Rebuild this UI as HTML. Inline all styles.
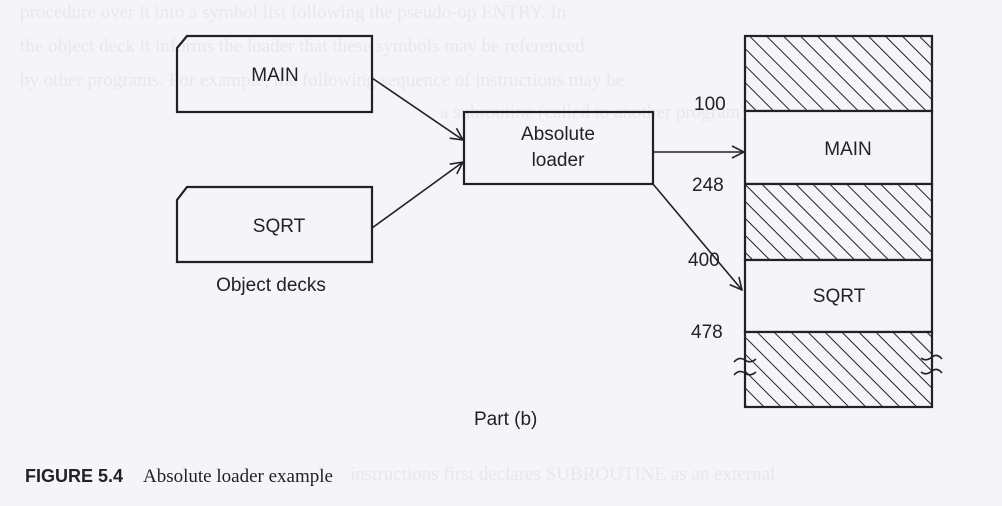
<!DOCTYPE html>
<html><head><meta charset="utf-8"><style>
html,body{margin:0;padding:0;background:#f5f4f8;}
svg{display:block;}
</style></head><body>
<svg width="1002" height="506" viewBox="0 0 1002 506" xmlns="http://www.w3.org/2000/svg">
<defs>
<pattern id="h" patternUnits="userSpaceOnUse" width="12" height="12" patternTransform="rotate(-45)">
<rect width="12" height="12" fill="#f5f4f8"/>
<line x1="0" y1="0" x2="0" y2="12" stroke="#222" stroke-width="2"/>
</pattern>
<marker id="a" markerWidth="14" markerHeight="14" refX="13" refY="7" orient="auto" markerUnits="userSpaceOnUse">
<path d="M1,1 L13,7 L1,13" fill="none" stroke="#222" stroke-width="1.6"/>
</marker>
</defs>
<rect width="1002" height="506" fill="#f5f4f8"/>
<g font-family="Liberation Serif, serif" font-size="19" fill="#e8e7ee">
<text x="20" y="18">procedure over it into a symbol list following the pseudo-op ENTRY. In</text>
<text x="20" y="52">the object deck it informs the loader that these symbols may be referenced</text>
<text x="20" y="86">by other programs. For example, the following sequence of instructions may be</text>
<text x="440" y="118">a subroutine (called to another program)</text>
<text x="350" y="480">instructions first declares SUBROUTINE as an external</text>
</g>
<g fill="none" stroke="#222" stroke-width="2.2">
<path d="M187,36 L372,36 L372,112 L177,112 L177,48 Z"/>
<path d="M187,187 L372,187 L372,262 L177,262 L177,200 Z"/>
<rect x="464" y="112" width="189" height="72"/>
</g>
<g stroke="#222" stroke-width="1.6" fill="none">
<line x1="372" y1="78" x2="463" y2="140" marker-end="url(#a)"/>
<line x1="372" y1="228" x2="463" y2="162" marker-end="url(#a)"/>
<line x1="653" y1="152" x2="744" y2="152" marker-end="url(#a)"/>
<line x1="653" y1="184" x2="742" y2="290" marker-end="url(#a)"/>
</g>
<g stroke="#222" stroke-width="2.2">
<rect x="745" y="36" width="187" height="75" fill="url(#h)"/>
<rect x="745" y="111" width="187" height="73" fill="#f5f4f8"/>
<rect x="745" y="184" width="187" height="76" fill="url(#h)"/>
<rect x="745" y="260" width="187" height="72" fill="#f5f4f8"/>
<rect x="745" y="332" width="187" height="75" fill="url(#h)"/>
</g>
<g stroke="#222" stroke-width="1.6" fill="none">
<path d="M734,362 q5,-6 11,-2 q5,4 11,-1"/>
<path d="M734,375 q5,-6 11,-2 q5,4 11,-1"/>
<path d="M921,358 q5,4 11,-1 q5,-4 10,2"/>
<path d="M921,372 q5,4 11,-1 q5,-4 10,2"/>
</g>
<g font-family="Liberation Sans, sans-serif" font-size="19" fill="#222">
<text x="275" y="81" text-anchor="middle">MAIN</text>
<text x="279" y="232" text-anchor="middle">SQRT</text>
<text x="271" y="291" text-anchor="middle">Object decks</text>
<text x="558" y="140" text-anchor="middle">Absolute</text>
<text x="558" y="166" text-anchor="middle">loader</text>
<text x="848" y="155" text-anchor="middle">MAIN</text>
<text x="839" y="302" text-anchor="middle">SQRT</text>
<text x="694" y="110">100</text>
<text x="692" y="191">248</text>
<text x="688" y="266">400</text>
<text x="691" y="338">478</text>
<text x="474" y="425">Part (b)</text>
<text x="25" y="482" font-weight="bold" font-size="18">FIGURE 5.4</text>
</g>
<text x="143" y="482" font-family="Liberation Serif, serif" font-size="19" fill="#222">Absolute loader example</text>
</svg>
</body></html>
